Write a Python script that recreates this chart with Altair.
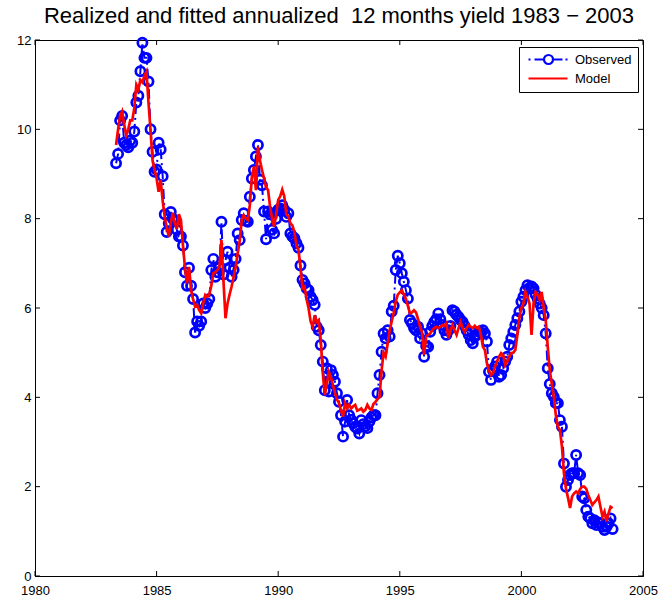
import altair as alt
import pandas as pd

# ---------------- data (monthly, May 1983 .. Oct 2003) ----------------
start_year = 1983
start_month = 5  # May

observed = [
    # 1983 May-Dec
    9.24, 9.45, 10.2, 10.3, 9.7, 9.65, 9.6, 9.75,
    # 1984
    9.7, 9.95, 10.6, 10.75, 11.3, 11.94, 11.6, 11.6, 11.07, 10.0, 9.5, 9.05,
    # 1985
    9.1, 9.7, 9.55, 8.95, 8.1, 7.7, 7.9, 8.15, 8.0, 7.95, 7.75, 7.6,
    # 1986
    7.6, 7.4, 6.8, 6.5, 6.9, 6.5, 6.2, 5.45, 5.7, 5.6, 5.7, 6.1,
    # 1987
    6.0, 6.1, 6.2, 6.85, 7.1, 6.7, 6.8, 6.9, 7.93, 6.75, 7.07, 7.26,
    # 1988
    6.9, 6.7, 6.85, 7.1, 7.67, 7.52, 7.97, 8.12, 7.95, 7.93, 8.49, 8.9,
    # 1989
    9.09, 9.39, 9.65, 8.87, 8.75, 8.16, 7.54, 8.16, 8.1, 7.75, 7.67, 8.0,
    # 1990
    8.2, 8.23, 8.3, 8.2, 8.04, 8.12, 7.67, 7.6, 7.56, 7.45, 7.35, 6.95,
    # 1991
    6.63, 6.55, 6.44, 6.4, 6.25, 6.18, 6.07, 5.58, 5.5, 5.17, 4.8, 4.16,
    # 1992
    4.65, 4.13, 4.61, 4.5, 4.35, 4.09, 3.9, 3.6, 3.12, 3.46, 3.94, 3.6,
    # 1993
    3.5, 3.42, 3.34, 3.3, 3.19, 3.49, 3.4, 3.35, 3.31, 3.46, 3.55, 3.6,
    # 1994
    3.6, 4.09, 4.5, 5.02, 5.43, 5.32, 5.5, 5.36, 5.92, 6.05, 6.85, 7.17,
    # 1995
    7.0, 6.78, 6.59, 6.4, 6.21, 5.73, 5.66, 5.55, 5.5, 5.58, 5.32, 5.43,
    # 1996
    4.91, 5.15, 5.13, 5.47, 5.6, 5.69, 5.75, 5.88, 5.75, 5.62, 5.5, 5.4,
    # 1997
    5.5, 5.6, 5.95, 5.92, 5.85, 5.8, 5.73, 5.69, 5.6, 5.5, 5.4, 5.28,
    # 1998
    5.21, 5.36, 5.4, 5.47, 5.45, 5.5, 5.43, 5.25, 4.57, 4.39, 4.6, 4.69,
    # 1999
    4.8, 4.46, 4.5, 4.65, 4.8, 4.91, 5.17, 5.32, 5.47, 5.62, 5.77, 5.92,
    # 2000
    6.14, 6.25, 6.4, 6.51, 6.45, 6.48, 6.44, 6.3, 6.21, 6.1, 6.0, 5.84,
    # 2001
    5.43, 4.65, 4.3, 4.09, 4.01, 3.87, 3.87, 3.49, 3.34, 2.52, 2.0, 2.15,
    # 2002
    2.26, 2.3, 2.3, 2.71, 2.3, 2.26, 1.78, 1.74, 1.48, 1.33, 1.29, 1.18,
    # 2003 Jan-Oct
    1.25, 1.14, 1.2, 1.18, 1.1, 1.03, 1.1, 1.18, 1.29, 1.05,
]

model = [
    # 1983 May-Dec
    9.65, 10.0, 10.3, 10.4, 10.1, 9.87, 10.0, 10.2,
    # 1984
    10.2, 10.48, 11.0, 10.9, 11.1, 11.05, 11.2, 11.29, 10.6, 9.98, 9.3, 9.09,
    # 1985
    8.9, 8.6, 8.87, 8.4, 8.04, 7.8, 7.6, 7.9, 8.13, 7.9, 7.77, 8.1,
    # 1986
    7.97, 7.41, 6.9, 6.55, 6.92, 6.4, 6.2, 6.03, 6.07, 5.95, 5.88, 6.1,
    # 1987
    6.29, 6.25, 6.3, 6.5, 6.78, 6.8, 6.85, 6.92, 7.52, 6.6, 5.77, 6.1,
    # 1988
    6.3, 6.48, 6.7, 6.92, 7.22, 7.5, 7.97, 8.08, 8.0, 7.97, 8.3, 8.94,
    # 1989
    9.17, 8.64, 9.61, 9.3, 9.09, 8.9, 8.7, 8.64, 8.27, 8.0, 7.82, 8.1,
    # 1990
    8.42, 8.5, 8.65, 8.5, 8.1, 8.05, 7.9, 7.85, 7.7, 7.4, 7.3, 6.9,
    # 1991
    6.44, 6.48, 6.2, 5.99, 5.7, 5.58, 5.84, 5.69, 5.73, 5.28, 4.54, 4.05,
    # 1992
    4.3, 4.57, 4.45, 4.28, 4.1, 3.95, 3.87, 3.7, 3.57, 3.87, 3.75, 3.83,
    # 1993
    3.75, 3.8, 3.83, 3.7, 3.72, 3.75, 3.68, 3.72, 3.83, 3.75, 3.72, 3.85,
    # 1994
    3.9, 3.96, 4.01, 4.6, 5.0, 4.91, 5.2, 5.5, 5.7, 5.9, 6.15, 6.3,
    # 1995
    6.35, 6.4, 6.3, 6.21, 6.05, 5.88, 5.9, 5.95, 5.9, 5.75, 5.58, 5.45,
    # 1996
    4.95, 5.36, 5.4, 5.43, 5.5, 5.55, 5.58, 5.55, 5.58, 5.62, 5.6, 5.66,
    # 1997
    5.32, 5.5, 5.62, 5.5, 5.4, 5.55, 5.69, 5.55, 5.47, 5.55, 5.62, 5.58,
    # 1998
    5.55, 5.6, 5.55, 5.58, 5.4, 5.13, 5.06, 4.76, 4.6, 4.5, 4.54, 4.69,
    # 1999
    4.8, 4.91, 4.99, 4.95, 4.72, 4.8, 4.91, 4.99, 5.0, 5.06, 5.4, 5.8,
    # 2000
    6.0, 6.1, 6.36, 6.25, 6.1, 5.4, 6.1, 6.36, 6.3, 6.18, 6.36, 6.0,
    # 2001
    5.73, 5.13, 4.61, 4.3, 4.01, 3.6, 3.34, 3.27, 2.9, 2.3, 1.95, 1.75,
    # 2002
    1.52, 1.78, 1.85, 1.89, 1.85, 1.95, 2.0, 2.0, 1.95, 1.81, 1.7, 1.59,
    # 2003 Jan-Oct
    1.65, 1.7, 1.78, 1.55, 1.33, 1.44, 1.22, 1.4, 1.55, 1.52,
]

x_ticks = [1980, 1985, 1990, 1995, 2000, 2005]
y_ticks = [0, 2, 4, 6, 8, 10, 12]
series_names = ["Observed", "Model"]
series_colors = ["#0000ff", "#ff0000"]
title_text = "Realized and fitted annualized\u00a0 12 months yield 1983 \u2212 2003"

# ---------------- build tables ----------------
n = len(observed)
t = [start_year + (start_month - 1) / 12 + i / 12 for i in range(n)]
df = pd.DataFrame({"t": t, "obs": observed, "model": model[:n]})
xt_df = pd.DataFrame({"v": x_ticks})
yt_df = pd.DataFrame({"v": y_ticks})
leg_df = pd.DataFrame({"series": series_names})

W, H = 608, 536
FONT = "Liberation Sans"

xs = alt.Scale(domain=[1980, 2005], nice=False, zero=False)
ys = alt.Scale(domain=[0, 12], nice=False, zero=False)

x_axis = alt.Axis(values=x_ticks, format="d", ticks=False, tickSize=0, grid=False,
                  labelPadding=8, labelFontSize=13, labelFont=FONT, labelColor="black",
                  domainColor="black", domainWidth=1, title=None, labelFlush=False)
y_axis = alt.Axis(values=y_ticks, format="d", ticks=False, tickSize=0, grid=False,
                  labelPadding=4, labelFontSize=13, labelFont=FONT, labelColor="black",
                  domainColor="black", domainWidth=1, title=None, labelFlush=False)


def X(field):
    return alt.X(field, type="quantitative", scale=xs, axis=x_axis)


def Y(field):
    return alt.Y(field, type="quantitative", scale=ys, axis=y_axis)


base = alt.Chart(df)

obs_line = base.mark_line(color="#0000ff", strokeWidth=2, strokeDash=[10, 4, 2, 4]).encode(
    x=X("t"), y=Y("obs"))
obs_pts = base.mark_point(shape="circle", filled=False, color="#0000ff",
                          strokeWidth=2.7, size=85, opacity=1).encode(
    x=X("t"), y=Y("obs"))
model_line = base.mark_line(color="#ff0000", strokeWidth=2.7).encode(
    x=X("t"), y=Y("model"))

# inward ticks on all four sides
tick_bottom = alt.Chart(xt_df).mark_rule(color="black", strokeWidth=1).encode(
    x=X("v"), y=alt.value(H), y2=alt.value(H - 5))
tick_top = alt.Chart(xt_df).mark_rule(color="black", strokeWidth=1).encode(
    x=X("v"), y=alt.value(0), y2=alt.value(5))
tick_left = alt.Chart(yt_df).mark_rule(color="black", strokeWidth=1).encode(
    y=Y("v"), x=alt.value(0), x2=alt.value(5))
tick_right = alt.Chart(yt_df).mark_rule(color="black", strokeWidth=1).encode(
    y=Y("v"), x=alt.value(W), x2=alt.value(W - 5))

# legend symbols (units of 5 px): dash-dot line with a circle / solid line
obs_sym = ("M-0.6,0L-0.2,0M0.6,0L2.5,0M4.3,0L6.2,0M6.8,0L7.2,0"
           "M2.5,0A0.9,0.9,0,1,1,4.3,0A0.9,0.9,0,1,1,2.5,0")
mod_sym = "M-0.6,0L7.2,0"
legend_props = dict(title=None, orient="none", legendX=484, legendY=7,
                    labelFont=FONT, labelFontSize=13, labelColor="black",
                    symbolSize=100, symbolStrokeWidth=2.2, symbolOpacity=1,
                    symbolFillColor="transparent", labelOffset=37, rowPadding=3,
                    padding=6, strokeColor="black", fillColor="white")
legend_layer = alt.Chart(leg_df).mark_point(filled=False, opacity=0).encode(
    color=alt.Color("series:N", scale=alt.Scale(domain=series_names, range=series_colors),
                    legend=alt.Legend(**legend_props)),
    shape=alt.Shape("series:N", scale=alt.Scale(domain=series_names, range=[obs_sym, mod_sym]),
                    legend=alt.Legend(**legend_props)),
)

chart = alt.layer(
    obs_line, obs_pts, model_line, tick_bottom, tick_top, tick_left, tick_right, legend_layer
).properties(
    width=W, height=H,
    title=alt.Title(title_text, fontSize=22, font=FONT, fontWeight="normal", color="black",
                    offset=15, dy=27, baseline="alphabetic", anchor="middle", frame="group"),
    autosize=alt.AutoSizeParams(type="none"),
    padding={"left": 35, "top": 40, "right": 16, "bottom": 25},
    background="white",
).configure_view(
    stroke="black", strokeWidth=1
)

chart.save("out.html", embed_options={"renderer": "svg", "actions": False})
